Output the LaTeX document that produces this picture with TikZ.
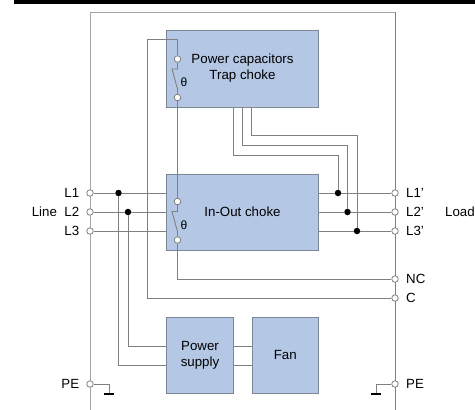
\documentclass[tikz,border=0pt]{standalone}
\usepackage{fontspec}
\setmainfont{Liberation Sans}
\usetikzlibrary{positioning}

\definecolor{boxblue}{HTML}{B4C7E4}
\definecolor{boxline}{HTML}{7C8694}
\definecolor{wiregray}{HTML}{808080}
\definecolor{framegray}{HTML}{A6A6A6}

\tikzset{
        block/.style={draw=boxline, fill=boxblue, line width=1pt, inner sep=0pt, align=center},
        wire/.style={draw=wiregray, line width=0.9pt},
        term/.style={circle, draw=wiregray, fill=white, line width=0.8pt, inner sep=0pt, minimum size=6.5pt},
        dot/.style={circle, fill=black, inner sep=0pt, minimum size=6.5pt},
        earth/.style={fill=black, inner sep=0pt, minimum width=10pt, minimum height=2.4pt},
        lab/.style={inner sep=0pt}
}

\begin{document}
\begin{tikzpicture}[x=1pt, y=-1pt, font=\fontsize{13.3}{16}\selectfont]
        \useasboundingbox (0,0) rectangle (475,410);
        \fill (14,0) rectangle (475,3.5);

        \draw[framegray, line width=1pt] (90,410) |- (395,12);
        \draw[wiregray, line width=1pt] (395,12) -- (395,410);

        \node[block, minimum width=152pt, minimum height=77pt] (trap) at (242.5,68.5) {Power capacitors\\Trap choke};
        \node[block, minimum width=152pt, minimum height=76pt] (inout) at (242.5,212) {In-Out choke};
        \node[block, minimum width=67pt, minimum height=76pt] (supply) at (200,355) {Power\\supply};
        \node[block, minimum width=66.5pt, minimum height=76pt] (fan) at (285.25,355) {Fan};

        \node[term] (L1) at (90,193) {};
        \node[term] (L2) at (90,212) {};
        \node[term] (L3) at (90,231) {};
        \node[term] (PEa) at (90,384) {};
        \node[term] (L1b) at (395,193) {};
        \node[term] (L2b) at (395,212) {};
        \node[term] (L3b) at (395,231) {};
        \node[term] (NC) at (395,279) {};
        \node[term] (C) at (395,298) {};
        \node[term] (PEb) at (395,384) {};

        \node[term] (s1) at (177.5,59) {};
        \node[term] (s2) at (177.5,97.5) {};
        \node[term] (s3) at (177.5,201.5) {};
        \node[term] (s4) at (177.5,240) {};

        \node[dot] (d1) at (118.5,193) {};
        \node[dot] (d2) at (128,212) {};
        \node[dot] (d3) at (338,193) {};
        \node[dot] (d4) at (347.5,212) {};
        \node[dot] (d5) at (357,231) {};

        \node[earth] (gndA) at (109,394) {};
        \node[earth] (gndB) at (376,394) {};

        \coordinate (c1) at (147,39);
        \coordinate (c2) at (177.5,39);
        \coordinate (c3) at (147,298);
        \coordinate (c4) at (177.5,279);
        \coordinate (p1) at (166,365);
        \coordinate (p2) at (166,346);
        \coordinate (f1) at (233.5,346);
        \coordinate (f2) at (252,346);
        \coordinate (f3) at (233.5,365);
        \coordinate (f4) at (252,365);
        \coordinate (t1) at (233.5,107);
        \coordinate (t2) at (242.5,107);
        \coordinate (t3) at (251.5,107);

        \draw[wire] (L1) -- (d1) -- (d1 -| inout.west);
        \draw[wire] (L2) -- (d2) -- (d2 -| inout.west);
        \draw[wire] (L3) -- (L3 -| inout.west);
        \draw[wire] (L1b) -- (d3) -- (d3 -| inout.east);
        \draw[wire] (L2b) -- (d4) -- (d4 -| inout.east);
        \draw[wire] (L3b) -- (d5) -- (d5 -| inout.east);

        \draw[wire] (d1) |- (p1);
        \draw[wire] (d2) |- (p2);
        \draw[wire] (f1) -- (f2);
        \draw[wire] (f3) -- (f4);

        \draw[wire] (t1) |- (338,155) -- (d3);
        \draw[wire] (t2) |- (347.5,145) -- (d4);
        \draw[wire] (t3) |- (357,135) -- (d5);

        \draw[wire] (C) -- (c3) -- (c1) -- (c2) -- (s1);
        \draw[wire] (s1) |- (172,69) -- (177.5,89) -- (s2);
        \draw[wire] (s2) -- (s3);
        \draw[wire] (s3) |- (172,211.5) -- (177.5,231.5) -- (s4);
        \draw[wire] (s4) -- (c4) -- (NC);

        \draw[wire] (PEa) -| (gndA);
        \draw[wire] (PEb) -| (gndB);

        \node[lab, font=\fontsize{12}{14}\selectfont] (th1) at (184,82) {θ};
        \node[lab, font=\fontsize{12}{14}\selectfont] (th2) at (184,225.5) {θ};

        \node[lab, left=7pt of L1] (tL1) {L1};
        \node[lab, left=7pt of L2] (tL2) {L2};
        \node[lab, left=7pt of L3] (tL3) {L3};
        \node[lab, left=7pt of PEa] (tPEa) {PE};
        \node[lab, left=7pt of tL2] (tline) {Line};
        \node[lab, anchor=west] (tL1b) at (406,193) {L1'};
        \node[lab, anchor=west] (tL2b) at (406,212) {L2'};
        \node[lab, anchor=west] (tL3b) at (406,231) {L3'};
        \node[lab, anchor=west] (tNC) at (406,279) {NC};
        \node[lab, anchor=west] (tC) at (406,298) {C};
        \node[lab, anchor=west] (tPEb) at (406,384) {PE};
        \node[lab, anchor=west] (tload) at (445,212) {Load};
\end{tikzpicture}
\end{document}
